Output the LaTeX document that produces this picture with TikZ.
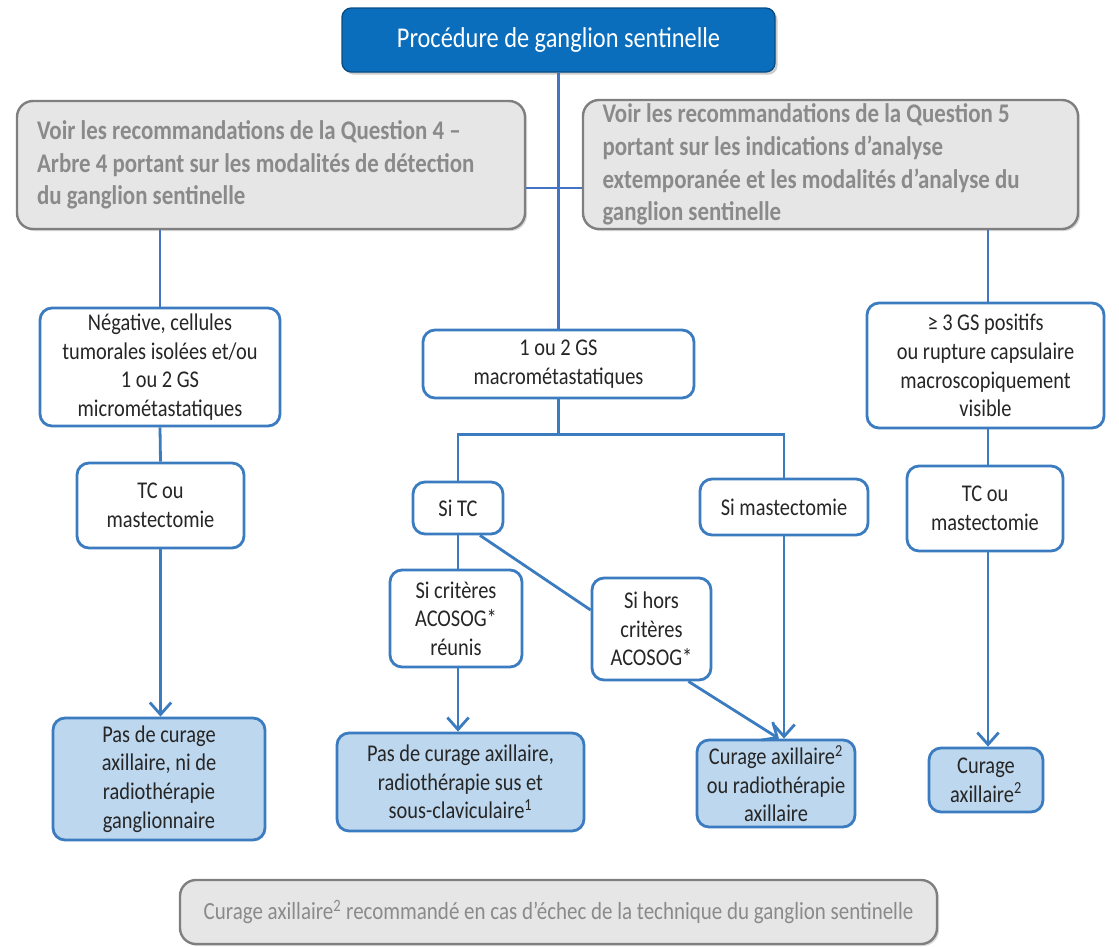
\documentclass[tikz,border=0pt]{standalone}
\usepackage{fontspec}
\setmainfont{Carlito}[FakeStretch=0.85]
\usetikzlibrary{arrows.meta,shadows,calc}
\definecolor{dkblue}{HTML}{0A6EBD}
\definecolor{bord}{HTML}{3B7BC0}
\definecolor{lnblue}{HTML}{4472C4}
\definecolor{lblue}{HTML}{BDD7EE}
\definecolor{gfill}{HTML}{E6E6E6}
\definecolor{gbord}{HTML}{7F7F7F}
\definecolor{gtext}{HTML}{8A8A8A}
\definecolor{txt}{HTML}{262626}
\begin{document}
\begin{tikzpicture}[x=0.75pt,y=-0.75pt,
  sz/.style 2 args={minimum width=#1*0.75pt, minimum height=#2*0.75pt},
  base/.style={rounded corners=9pt, line width=2.1pt, inner sep=0pt, align=center, text=txt,
               font=\fontsize{18}{21.5}\selectfont},
  wbox/.style={base, draw=bord, fill=white},
  bbox/.style={base, draw=bord, fill=lblue},
  gbox/.style={rounded corners=12pt, line width=1.8pt, draw=gbord, fill=gfill, text=gtext,
               inner sep=0pt, align=flush left,
               font=\bfseries\fontsize{20.2}{24.6}\selectfont,
               drop shadow={shadow xshift=1.5pt, shadow yshift=-1.5pt, opacity=0.3}},
  botbox/.style={rounded corners=12pt, line width=1.8pt, draw=gbord, fill=gfill, text=gtext,
               inner sep=0pt, align=center, font=\fontsize{18.5}{22}\selectfont,
               drop shadow={shadow xshift=1.5pt, shadow yshift=-1.5pt, opacity=0.3}},
  topbox/.style={rounded corners=7pt, draw=dkblue!70!black, line width=1pt, fill=dkblue,
               text=white, inner sep=0pt, font=\fontsize{21.5}{25}\selectfont,
               drop shadow={shadow xshift=2pt, shadow yshift=-2pt, opacity=0.4}},
  conn/.style={draw=lnblue, line width=2.1pt},
  link/.style={draw=bord, line width=2.1pt},
  arr/.style={draw=bord, line width=2.1pt, -{Straight Barb[length=9pt,width=16pt,line width=2.1pt]}}
]
\useasboundingbox (0,0) rectangle (1119,946);

\node[topbox, sz={433}{64}] (top) at (558.5,40) {Procédure de ganglion sentinelle};

\node[gbox, sz={508}{128}, text width=468*0.75pt] (gl) at (271,165)
  {Voir les recommandations de la Question 4 –\\Arbre 4 portant sur les modalités de détection\\du ganglion sentinelle};
\node[gbox, sz={495}{129}, text width=456*0.75pt] (gr) at (830.5,164.5)
  {Voir les recommandations de la Question 5\\portant sur les indications d’analyse\\extemporanée et les modalités d’analyse du\\ganglion sentinelle};

\node[wbox, sz={240}{118}] (neg) at (160,367)
  {Négative, cellules\\tumorales isolées et/ou\\1 ou 2 GS\\micrométastatiques};
\node[wbox, sz={167}{85}] (tcl) at (160.5,505.5) {TC ou\\mastectomie};
\node[bbox, sz={212}{122}] (pasl) at (159,779)
  {Pas de curage\\axillaire, ni de\\radiothérapie\\ganglionnaire};

\node[wbox, sz={271}{68}] (gs12) at (558.5,364) {1 ou 2 GS\\macrométastatiques};
\node[wbox, sz={90}{52}] (sitc) at (458,508) {Si TC};
\node[wbox, sz={168}{56}] (simast) at (784,507) {Si mastectomie};
\node[wbox, sz={132}{97}] (sicrit) at (456,618.5) {Si critères\\ACOSOG*\\réunis};
\node[wbox, sz={119}{102}] (sihors) at (651.5,629) {Si hors\\critères\\ACOSOG*};
\node[bbox, sz={247}{98}] (pasm) at (460.5,782)
  {Pas de curage axillaire,\\radiothérapie sus et\\sous-claviculaire\textsuperscript{1}};
\node[bbox, sz={158}{87}] (curm) at (776,783.5)
  {Curage axillaire\textsuperscript{2}\\ou radiothérapie\\axillaire};

\node[wbox, sz={237}{125}] (gs3) at (985.5,365.5)
  {≥ 3 GS positifs\\ou rupture capsulaire\\macroscopiquement\\visible};
\node[wbox, sz={156}{85}] (tcr) at (985,508.5) {TC ou\\mastectomie};
\node[bbox, sz={114}{64}] (curr) at (986,780) {Curage\\axillaire\textsuperscript{2}};

\node[botbox, sz={757}{64}] (bot) at (558.5,912)
  {Curage axillaire\textsuperscript{2} recommandé en cas d’échec de la technique du ganglion sentinelle};

% connectors
\draw[conn] (top.south) -- (gs12.north);
\draw[conn] (gl.east |- 0,188) -- (gr.west |- 0,188);
\draw[conn] (neg.north |- gl.south) -- (neg.north);
\draw[conn] (gr.south -| 988,0) -- (988,0 |- gs3.north);

\draw[link] (neg.south) -- (tcl.north);
\draw[arr] (tcl.south) -- (tcl.south |- pasl.north);

\draw[link] (gs12.south) -- ++(0,35) coordinate (split);
\draw[link] (sitc.north) |- (split) -| (simast.north);
\draw[link] (sitc.south) -- (sitc.south |- sicrit.north);
\draw[link] ($(sitc.south)+(22,0)$) -- ($(sihors.west)+(0,-19)$);
\draw[arr] (sicrit.south -| sitc.south) -- (sitc.south |- pasm.north);
\draw[arr] (simast.south) -- (simast.south |- curm.north);
\draw[arr] ($(sihors.south east)+(-24,0)$) -- ($(curm.north)+(3,0)$);

\draw[link] (gs3.south -| 988,0) -- (988,0 |- tcr.north);
\draw[arr] (tcr.south -| 988,0) -- (988,0 |- curr.north);
\end{tikzpicture}
\end{document}
